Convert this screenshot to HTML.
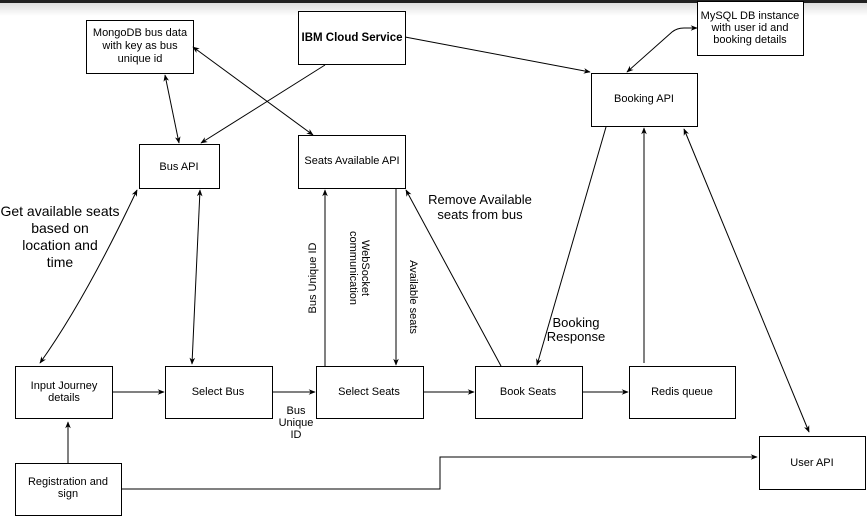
<!DOCTYPE html>
<html><head><meta charset="utf-8"><style>
html,body{margin:0;padding:0;background:#fff;}
svg{display:block;font-family:"Liberation Sans",Arial,sans-serif;}
</style></head><body>
<svg width="867" height="516" viewBox="0 0 867 516" xmlns="http://www.w3.org/2000/svg">
<defs>
<linearGradient id="g" x1="0" y1="0" x2="0" y2="1"><stop offset="0" stop-color="#d8d8d8"/><stop offset="1" stop-color="#fff"/></linearGradient>
<marker id="a" viewBox="0 0 10 10" refX="9" refY="5" markerWidth="7" markerHeight="7" orient="auto-start-reverse"><path d="M0,1 L10,5 L0,9 L3,5 z" fill="#000"/></marker>
</defs>
<rect x="0" y="0" width="867" height="16" fill="url(#g)"/>
<rect x="0" y="0" width="867" height="3" fill="#222"/>
<g fill="#fff" stroke="#000" stroke-width="1">
<rect x="86.5" y="20.5" width="107" height="53"/>
<rect x="298.5" y="11.5" width="107" height="53"/>
<rect x="697.5" y="1.5" width="106" height="54"/>
<rect x="591.5" y="73.5" width="106" height="53"/>
<rect x="139.5" y="144.5" width="80" height="44"/>
<rect x="298.5" y="135.5" width="107" height="53"/>
<rect x="15.5" y="366.5" width="97" height="52"/>
<rect x="165.5" y="366.5" width="107" height="52"/>
<rect x="316.5" y="366.5" width="107" height="52"/>
<rect x="475.5" y="366.5" width="107" height="52"/>
<rect x="629.5" y="366.5" width="106" height="52"/>
<rect x="759.5" y="436.5" width="106" height="53"/>
<rect x="15.5" y="463.5" width="106" height="52"/>
</g>
<g fill="none" stroke="#000" stroke-width="1" marker-end="url(#a)">
<path d="M165,75 L179,143" marker-start="url(#a)"/>
<path d="M325,65 L201,143"/>
<path d="M193,47 L313,135" marker-start="url(#a)"/>
<path d="M405,37 L590,72"/>
<path d="M627,72 L672,32 Q677,28 684,28 L697,28" marker-start="url(#a)"/>
<path d="M40,363 Q85,300 137,190" marker-start="url(#a)"/>
<path d="M192,364 L200,190" marker-start="url(#a)"/>
<path d="M112,392 L164,392"/>
<path d="M272,392 L315,392"/>
<path d="M325,366 L325,190"/>
<path d="M396,189 L396,365"/>
<path d="M501,366 L406,190"/>
<path d="M423,392 L474,392"/>
<path d="M582,392 L628,392"/>
<path d="M644,363 L644,128"/>
<path d="M606,127 L537,365"/>
<path d="M684,129 L809,432" marker-start="url(#a)"/>
<path d="M68,463 L68,422"/>
<path d="M121,489 L440,489 L440,457 L757,457"/>
</g>
<g font-size="11" text-anchor="middle" fill="#000">
<text x="140" y="36">MongoDB bus data</text>
<text x="140" y="49">with key as bus</text>
<text x="140" y="62">unique id</text>
<text x="352" y="41" font-weight="bold" font-size="11.5">IBM Cloud Service</text>
<text x="750" y="19">MySQL DB instance</text>
<text x="750" y="31">with user id and</text>
<text x="750" y="43">booking details</text>
<text x="644" y="102">Booking API</text>
<text x="179" y="170">Bus API</text>
<text x="352" y="164">Seats Available API</text>
<text x="64" y="389">Input Journey</text>
<text x="64" y="401">details</text>
<text x="218" y="395">Select Bus</text>
<text x="369" y="395">Select Seats</text>
<text x="528" y="395">Book Seats</text>
<text x="682" y="395">Redis queue</text>
<text x="812" y="466">User API</text>
<text x="68" y="485">Registration and</text>
<text x="68" y="497">sign</text>
<text x="296" y="414">Bus</text>
<text x="296" y="426">Unique</text>
<text x="296" y="438">ID</text>
<text transform="translate(316,278) rotate(-90)">Bus Unique ID</text>
<text transform="translate(362,268) rotate(90)">WebSocket</text>
<text transform="translate(350,268) rotate(90)">communication</text>
<text transform="translate(410,297) rotate(90)">Available seats</text>
</g>
<g font-size="14" text-anchor="middle" fill="#000">
<text x="60" y="216">Get available seats</text>
<text x="60" y="233">based on</text>
<text x="60" y="250">location and</text>
<text x="60" y="267">time</text>
</g>
<g font-size="13" text-anchor="middle" fill="#000">
<text x="480" y="204">Remove  Available</text>
<text x="480" y="219">seats from bus</text>
<text x="576" y="327">Booking</text>
<text x="576" y="341">Response</text>
</g>
</svg>
</body></html>
